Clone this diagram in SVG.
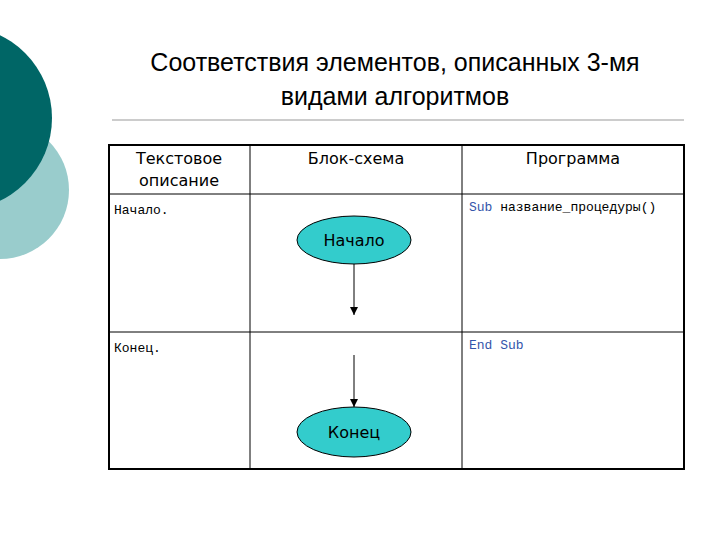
<svg xmlns="http://www.w3.org/2000/svg" width="720" height="540" viewBox="0 0 720 540">
<style>
.t{font-family:"DejaVu Sans","Noto Sans",sans-serif;font-size:16px;fill:#000}
.m{font-family:"Liberation Mono","Courier New",monospace;font-size:13px}
.g{stroke:#000;stroke-width:1;fill:none}
.e{fill:#33CCCC;stroke:#000;stroke-width:1}
</style>
<defs><marker id="a" markerWidth="10" markerHeight="10" refX="9" refY="5" orient="auto" markerUnits="userSpaceOnUse"><path d="M1,1 L9,5 L1,9 Z" fill="#000"/></marker></defs>
<rect width="720" height="540" fill="#fff"/>
<circle cx="0" cy="190" r="69" fill="#99CCCC"/>
<circle cx="-40" cy="118" r="92" fill="#006666"/>
<g id="title" font-family="Liberation Sans,Arial,sans-serif" font-size="25" text-anchor="middle">
<text x="395" y="71">Соответствия элементов, описанных 3-мя</text>
<text x="395" y="105">видами алгоритмов</text>
</g>
<line x1="112" y1="120" x2="684" y2="120" stroke="#999" stroke-width="1"/>
<g id="table">
<rect x="109" y="145" width="575" height="324" fill="none" stroke="#000" stroke-width="2"/>
<line class="g" x1="250" y1="145" x2="250" y2="469"/>
<line class="g" x1="462" y1="145" x2="462" y2="469"/>
<line class="g" x1="109" y1="194" x2="684" y2="194"/>
<line class="g" x1="109" y1="332" x2="684" y2="332"/>
<text class="t" x="179" y="164" text-anchor="middle">Текстовое</text>
<text class="t" x="179" y="186" text-anchor="middle">описание</text>
<text class="t" x="356" y="164" text-anchor="middle">Блок-схема</text>
<text class="t" x="573" y="164" text-anchor="middle">Программа</text>
<text class="m" x="114" y="214">Начало.</text>
<text class="m" x="114" y="352">Конец.</text>
<text class="m" x="469" y="211" font-size="12"><tspan fill="#3355AA">Sub</tspan> название_процедуры()</text>
<text class="m" x="469" y="349" font-size="12" fill="#3355AA">End Sub</text>
</g>
<g id="start"><ellipse class="e" cx="354" cy="240" rx="57" ry="24"/><text class="t" x="354" y="246" text-anchor="middle">Начало</text></g>
<g id="end"><ellipse class="e" cx="354" cy="432" rx="57" ry="25"/><text class="t" x="354" y="438" text-anchor="middle">Конец</text></g>
<g id="connectors">
<line class="g" x1="354" y1="264" x2="354" y2="315" marker-end="url(#a)"/>
<line class="g" x1="354" y1="355" x2="354" y2="407" marker-end="url(#a)"/>
</g>
</svg>
